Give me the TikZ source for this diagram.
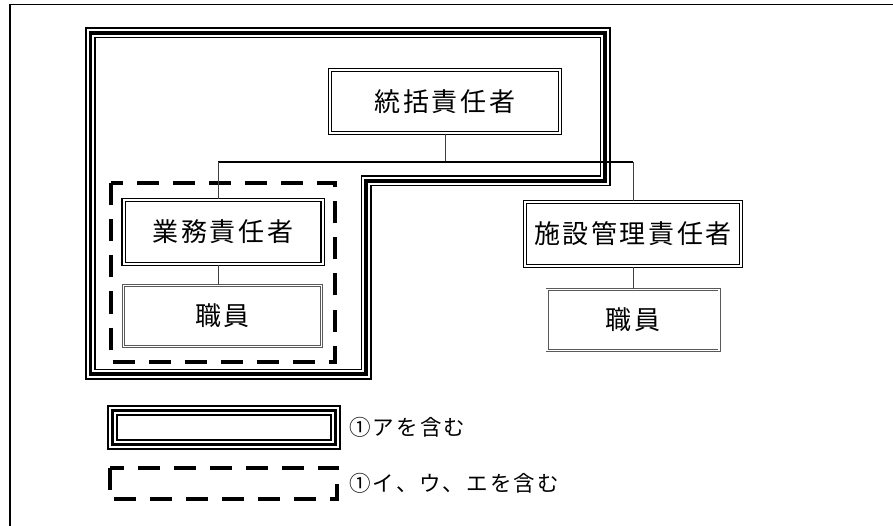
\documentclass[tikz,border=0pt]{standalone}
\usepackage{fontspec}
\newfontfamily\jp{Noto Sans CJK JP}[LetterSpace=10]
\usetikzlibrary{positioning}
\tikzset{
  triple/.style={draw,line width=11pt,postaction={draw=white,line width=7.4pt},postaction={draw=black,line width=3.6pt}},
  dbox/.style={draw,line width=1.1pt,double,double distance=2pt,inner sep=0pt,font=\jp\fontsize{26}{30}\selectfont},
  sbox/.style={draw=gray!70!black,line width=0.7pt,double,double distance=1.6pt,inner sep=0pt,font=\jp\fontsize{26}{30}\selectfont},
  dashbox/.style={draw,line width=4pt,dash pattern=on 22pt off 14pt},
  link/.style={draw=black!75,line width=1pt},
  legend/.style={anchor=west,inner sep=0pt,font=\jp\fontsize{21.5}{25}\selectfont}
}
\begin{document}
\begin{tikzpicture}[x=1pt,y=-1pt]
\useasboundingbox (0,0) rectangle (893,526);
\draw[line width=1.8pt] (10,526)--(10,4.5)--(893,4.5);
% frames
\draw[triple] (90.5,33)--(605,33)--(605,181)--(366,181)--(366,374)--(90.5,374)--cycle;
\draw[dashbox] (110.5,183.5) rectangle (334.5,361.5);
% boxes
\node[dbox,minimum width=230pt,minimum height=63pt] (sokatsu) at (445,101.5) {統括責任者};
\node[dbox,minimum width=199pt,minimum height=64pt] (gyomu) at (223,232) {業務責任者};
\node[sbox,minimum width=198pt,minimum height=61pt] (shokuinA) at (222.5,316) {職員};
\node[dbox,minimum width=216pt,minimum height=64pt] (shisetsu) at (633,234) {施設管理責任者};
\node[sbox,minimum width=172pt,minimum height=61pt] (shokuinB) at (633,320) {職員};
% connectors
\coordinate (jL) at (218,162);
\coordinate (jR) at (633,162);
\draw[link] (sokatsu.south)--(sokatsu.south|-jL);
\draw[link,draw=black,line width=1.6pt] (jL)--(jR);
\draw[link] (jL)--(jL|-gyomu.north);
\draw[link] (gyomu.south-|jL)--(jL|-shokuinA.north);
\draw[link] (jR)--(shisetsu.north);
\draw[link] (shisetsu.south)--(shokuinB.north);
% legend
\draw[triple] (112.5,410.5) rectangle (335.5,444.5);
\draw[dashbox] (109.5,467.5) rectangle (337,499);
\node[legend] (legA) at (349,427.5) {①アを含む};
\node[legend] (legB) at (349,483) {①イ、ウ、エを含む};
\end{tikzpicture}
\end{document}
